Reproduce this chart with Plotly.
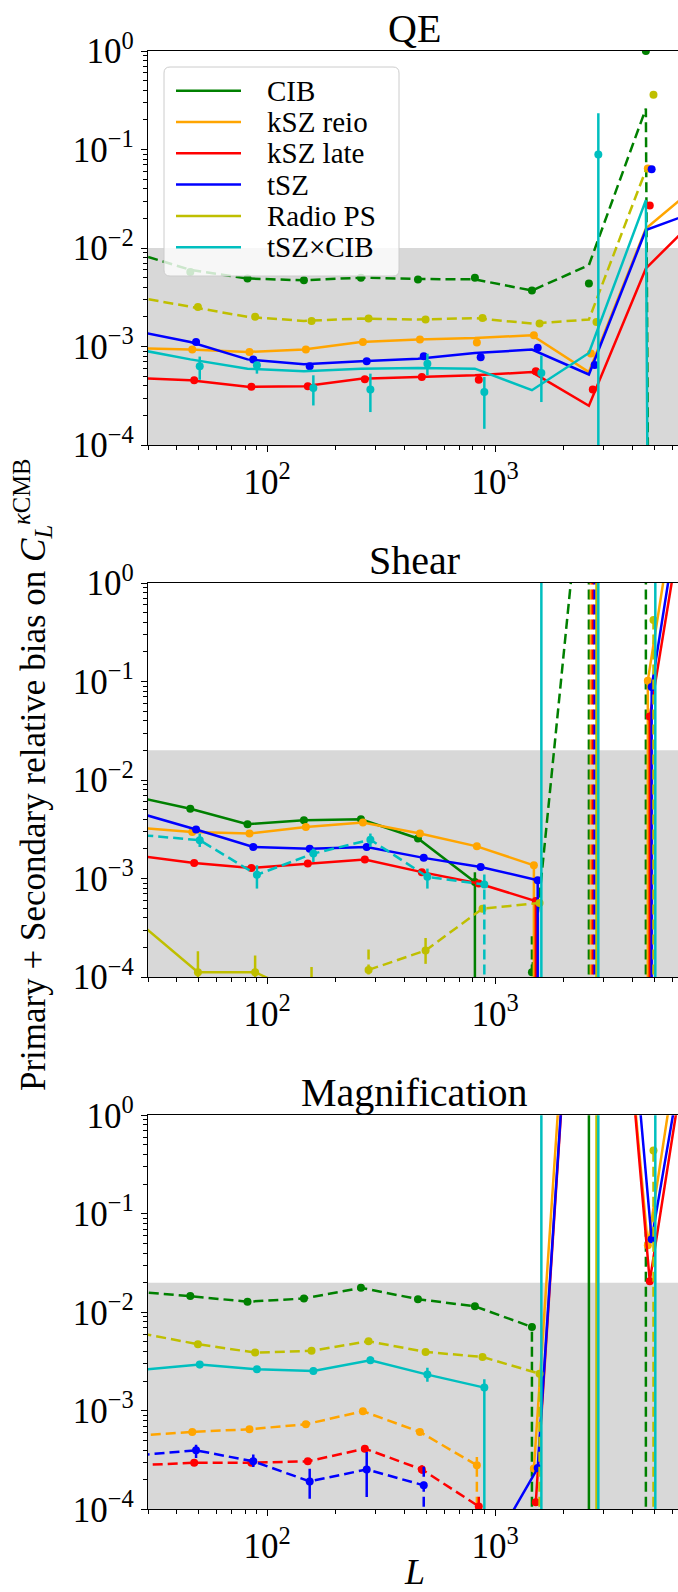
import math
import plotly.graph_objects as go

# ---------------- data ----------------
L_BINS = [26, 46, 82, 145, 258, 459, 816, 1452, 2582, 4592, 8166]
SPECIES = ["CIB", "kSZ reio", "kSZ late", "tSZ", "Radio PS", "tSZ×CIB"]
COLORS = ["#008000", "#FFA500", "#FF0000", "#0000FF", "#BFBF00", "#00BFBF"]
PANELS = ["QE", "Shear", "Magnification"]
THRESHOLDS = [0.01, 0.02, 0.02]
X_TICKS = [100, 1000]
X_TICK_TEXT = ["10<sup>2</sup>", "10<sup>3</sup>"]
Y_TICKS = [1e-4, 1e-3, 1e-2, 1e-1, 1]
Y_TICK_TEXT = ["10<sup>−4</sup>", "10<sup>−3</sup>", "10<sup>−2</sup>", "10<sup>−1</sup>", "10<sup>0</sup>"]
X_MIN, X_MAX = 30, 6353
OFFSET_STEP = 0.02          # x-offset factor between species
LINE_AT_OFFSET = [False, True, True]
N = None

# signed relative bias (negative values drawn dashed as |value|)
# --- QE: separate curve and points ---
QE_LINE_CIB = [-9.0e-3, -6.0e-3, -4.9e-3, -4.7e-3, -5.0e-3, -4.85e-3, -4.8e-3, -3.7e-3, -6.7e-3, -0.26, -1e-100]
QE_LINE_KSZ_REIO = [9.6e-4, 9.3e-4, 8.8e-4, 9.3e-4, 1.11e-3, 1.18e-3, 1.22e-3, 1.30e-3, 5.5e-4, 0.0158, 0.048]
QE_LINE_KSZ_LATE = [4.8e-4, 4.55e-4, 3.9e-4, 3.95e-4, 4.7e-4, 4.9e-4, 5.1e-4, 5.5e-4, 2.5e-4, 6.2e-3, 0.0234]
QE_LINE_TSZ = [1.45e-3, 1.11e-3, 7.4e-4, 6.6e-4, 7.1e-4, 7.5e-4, 8.6e-4, 9.3e-4, 5.2e-4, 0.0152, 0.0248]
QE_LINE_RADIO = [-3.2e-3, -2.52e-3, -2.0e-3, -1.82e-3, -1.92e-3, -1.88e-3, -1.94e-3, -1.71e-3, -1.88e-3, -0.062, N]
QE_LINE_TSZXCIB = [9.5e-4, 7.4e-4, 5.96e-4, 5.6e-4, 5.96e-4, 6.05e-4, 5.96e-4, 3.6e-4, 8.6e-4, 0.0306, 1e-100]

QE_CIB = [N, -5.7e-3, -4.9e-3, -4.7e-3, -5.0e-3, -4.8e-3, -5.0e-3, -3.7e-3, -4.35e-3, -1.0, N]
QE_KSZ_REIO = [N, 9.3e-4, 8.8e-4, 9.3e-4, 1.11e-3, 1.18e-3, 1.10e-3, 1.30e-3, 8.5e-4, 0.064, N]
QE_KSZ_LATE = [N, 4.55e-4, 3.9e-4, 3.95e-4, 4.65e-4, 4.9e-4, 4.6e-4, 5.6e-4, 3.65e-4, 0.027, N]
QE_TSZ = [N, 1.11e-3, 7.4e-4, 6.3e-4, 7.1e-4, 7.95e-4, 7.8e-4, 9.7e-4, 6.5e-4, 0.063, N]
QE_RADIO = [N, -2.52e-3, -2.0e-3, -1.82e-3, -1.92e-3, -1.88e-3, -1.95e-3, -1.71e-3, -1.77e-3, -0.36, N]
QE_TSZXCIB = [N, 6.3e-4, 6.45e-4, 3.79e-4, 3.67e-4, 6.7e-4, 3.45e-4, 5.38e-4, 0.089, N, N]

# --- Shear ---
SHEAR_CIB = [6.8e-3, 5.1e-3, 3.56e-3, 3.9e-3, 4.0e-3, 2.55e-3, 9.2e-4, -1.12e-4, -70, -100, N]
SHEAR_KSZ_REIO = [3.3e-3, 2.97e-3, 2.86e-3, 3.34e-3, 3.7e-3, 2.86e-3, 2.12e-3, 1.36e-3, -50, 0.102, 500]
SHEAR_KSZ_LATE = [1.7e-3, 1.44e-3, 1.28e-3, 1.42e-3, 1.56e-3, 1.16e-3, 8.9e-4, 5.9e-4, -50, 0.044, 150]
SHEAR_TSZ = [4.6e-3, 3.14e-3, 2.09e-3, 2.01e-3, 2.09e-3, 1.62e-3, 1.31e-3, 9.6e-4, -50, 0.088, 400]
SHEAR_RADIO = [3.4e-4, 1.12e-4, 1.12e-4, 6e-5, -1.18e-4, -1.86e-4, -4.94e-4, -5.64e-4, 50, -0.42, N]
SHEAR_TSZXCIB = [-2.75e-3, -2.45e-3, -1.09e-3, -1.79e-3, -2.48e-3, -1.04e-3, -8.7e-4, N, N, N, N]

# --- Magnification ---
MAG_CIB = [-0.0163, -0.0146, -0.0128, -0.0138, -0.0177, -0.0136, -0.0115, -7.1e-3, 50, -1e-6, N]
MAG_KSZ_REIO = [-5.6e-4, -6.1e-4, -6.5e-4, -7.3e-4, -9.9e-4, -6.1e-4, -2.8e-4, 2.59e-4, 1e5, 0.048, 300]
MAG_KSZ_LATE = [-2.8e-4, -2.97e-4, -2.97e-4, -3.07e-4, -4.13e-4, -2.54e-4, -1.07e-4, 1.18e-4, 1e5, 0.0207, 100]
MAG_TSZ = [-3.55e-4, -3.97e-4, -3.07e-4, -1.92e-4, -2.54e-4, -1.75e-4, 2.6e-5, 2.62e-4, 2e5, 0.055, 130]
MAG_RADIO = [-6.1e-3, -4.74e-3, -3.9e-3, -4.06e-3, -5.08e-3, -3.96e-3, -3.52e-3, -2.38e-3, 50, -0.44, N]
MAG_TSZXCIB = [2.62e-3, 2.95e-3, 2.64e-3, 2.54e-3, 3.26e-3, 2.33e-3, 1.72e-3, N, N, N, N]

# error bars: (bin index, lower, upper)
QE_TSZXCIB_ERR = [(1, 4.6e-4, 7.9e-4), (2, 5.3e-4, 6.97e-4), (3, 2.52e-4, 5.1e-4), (4, 2.16e-4, 5.3e-4),
                  (5, 5.1e-4, 8.45e-4), (6, 1.46e-4, 4.9e-4), (7, 2.73e-4, 8.1e-4), (8, 1e-9, 0.233)]
SHEAR_CIB_ERR = [(6, 1e-9, 1.16e-3), (7, 1e-9, 2.6e-4), (8, 1e-9, 1e9), (9, 1e-9, 1e9)]
SHEAR_KSZ_REIO_ERR = [(7, 1e-9, 1.36e-3), (8, 1e-9, 1e9), (9, 1e-9, 0.102)]
SHEAR_KSZ_LATE_ERR = [(7, 1e-9, 5.9e-4), (8, 1e-9, 1e9), (9, 1e-9, 0.044)]
SHEAR_TSZ_ERR = [(7, 1e-9, 9.6e-4), (8, 1e-9, 1e9), (9, 1e-9, 0.088)]
SHEAR_RADIO_ERR = [(1, 1e-9, 1.83e-4), (2, 1e-9, 1.65e-4), (3, 1e-9, 1.26e-4), (4, 1e-9, 2.0e-4),
                   (5, 1.36e-4, 2.49e-4), (8, 1e-9, 1e9), (9, 1e-9, 0.42)]
SHEAR_TSZXCIB_ERR = [(1, 2.09e-3, 2.86e-3), (2, 7.9e-4, 1.36e-3), (3, 1.47e-3, 2.01e-3), (4, 2.09e-3, 2.86e-3),
                     (5, 7.9e-4, 1.26e-3), (6, 1e-9, 1.11e-3), (7, 1e-9, 1e9), (8, 1e-9, 1e9), (9, 1e-9, 1e9)]
MAG_CIB_ERR = [(7, 1e-9, 7.1e-3), (8, 1e-9, 1e9), (9, 1e-9, 0.066)]
MAG_KSZ_REIO_ERR = [(5, 5.7e-4, 6.5e-4), (6, 1e-9, 3.4e-4)]
MAG_KSZ_LATE_ERR = [(5, 2.3e-4, 2.8e-4), (6, 1e-9, 1.35e-4)]
MAG_TSZ_ERR = [(1, 3.32e-4, 4.53e-4), (2, 2.69e-4, 3.59e-4), (3, 1.28e-4, 2.58e-4), (4, 1.33e-4, 3.82e-4),
               (5, 1e-9, 2.84e-4)]
MAG_RADIO_ERR = [(7, 1e-9, 2.38e-3), (8, 1e-9, 1e9), (9, 1e-9, 0.44)]
MAG_TSZXCIB_ERR = [(1, 2.7e-3, 3.2e-3), (3, 2.35e-3, 2.75e-3), (4, 3.0e-3, 3.55e-3), (5, 1.97e-3, 2.73e-3),
                   (6, 1e-9, 2.09e-3), (7, 1e-9, 1e9), (8, 1e-9, 1e9), (9, 1e-9, 1e9)]

POINTS = [
    [QE_CIB, QE_KSZ_REIO, QE_KSZ_LATE, QE_TSZ, QE_RADIO, QE_TSZXCIB],
    [SHEAR_CIB, SHEAR_KSZ_REIO, SHEAR_KSZ_LATE, SHEAR_TSZ, SHEAR_RADIO, SHEAR_TSZXCIB],
    [MAG_CIB, MAG_KSZ_REIO, MAG_KSZ_LATE, MAG_TSZ, MAG_RADIO, MAG_TSZXCIB],
]
CURVES = [
    [QE_LINE_CIB, QE_LINE_KSZ_REIO, QE_LINE_KSZ_LATE, QE_LINE_TSZ, QE_LINE_RADIO, QE_LINE_TSZXCIB],
    POINTS[1],
    POINTS[2],
]
ERRORS = [
    [[], [], [], [], [], QE_TSZXCIB_ERR],
    [SHEAR_CIB_ERR, SHEAR_KSZ_REIO_ERR, SHEAR_KSZ_LATE_ERR, SHEAR_TSZ_ERR, SHEAR_RADIO_ERR, SHEAR_TSZXCIB_ERR],
    [MAG_CIB_ERR, MAG_KSZ_REIO_ERR, MAG_KSZ_LATE_ERR, MAG_TSZ_ERR, MAG_RADIO_ERR, MAG_TSZXCIB_ERR],
]

# ---------------- layout geometry ----------------
W, H = 678, 1592
ML = 148
PW = W - ML
PANEL_PX = [(51, 445), (583, 977), (1115.3, 1509.3)]
FONT = "Liberation Serif, DejaVu Serif, serif"
LW = 2.5
MS = 8
DASH = "10px,5px"


def px_x(px):
    return (px - ML) / PW


def px_y(py):
    return 1 - py / H


fig = go.Figure()

for p in range(3):
    ax = "" if p == 0 else str(p + 1)
    xa, ya = "x" + ax, "y" + ax
    for s in range(6):
        col = COLORS[s]
        f = 1 + OFFSET_STEP * s
        xd = [L * f for L in L_BINS]
        xl = xd if LINE_AT_OFFSET[p] else L_BINS
        curve = CURVES[p][s]
        pos = [v if (v is not None and v > 0) else None for v in curve]
        neg = [-v if (v is not None and v < 0) else None for v in curve]
        fig.add_trace(go.Scatter(x=xl, y=pos, mode="lines", line=dict(color=col, width=LW),
                                 xaxis=xa, yaxis=ya, showlegend=False, hoverinfo="skip"))
        fig.add_trace(go.Scatter(x=xl, y=neg, mode="lines", line=dict(color=col, width=LW, dash=DASH),
                                 xaxis=xa, yaxis=ya, showlegend=False, hoverinfo="skip"))
        pts = POINTS[p][s]
        bx_s, by_s, bx_d, by_d = [], [], [], []
        for (i, lo, hi) in ERRORS[p][s]:
            v = pts[i]
            # long drops of negative (dashed) series keep the dashed style
            if v is not None and v < 0 and lo <= 1e-9:
                bx_d += [xd[i], xd[i], None]
                by_d += [lo, hi, None]
            else:
                bx_s += [xd[i], xd[i], None]
                by_s += [lo, hi, None]
        if bx_s:
            fig.add_trace(go.Scatter(x=bx_s, y=by_s, mode="lines", line=dict(color=col, width=LW),
                                     xaxis=xa, yaxis=ya, showlegend=False, hoverinfo="skip"))
        if bx_d:
            fig.add_trace(go.Scatter(x=bx_d, y=by_d, mode="lines", line=dict(color=col, width=LW, dash=DASH),
                                     xaxis=xa, yaxis=ya, showlegend=False, hoverinfo="skip"))
        mk = [abs(v) if v is not None else None for v in pts]
        fig.add_trace(go.Scatter(x=xd, y=mk, mode="markers", marker=dict(color=col, size=MS),
                                 xaxis=xa, yaxis=ya, showlegend=False, hoverinfo="skip"))

layout = dict(width=W, height=H, margin=dict(l=ML, r=0, t=0, b=0),
              paper_bgcolor="white", plot_bgcolor="white", showlegend=False,
              font=dict(family=FONT, size=32, color="black"))

minor_x = [k * 10 ** e for e in (1, 2, 3) for k in range(2, 10) if X_MIN <= k * 10 ** e <= X_MAX]
minor_y = [k * 10.0 ** e for e in (-4, -3, -2, -1) for k in range(2, 10)]
shapes = []
annotations = []
for p in range(3):
    ax = "" if p == 0 else str(p + 1)
    top, bot = PANEL_PX[p]
    layout["xaxis" + ax] = dict(
        type="log", range=[math.log10(X_MIN), math.log10(X_MAX)], domain=[0, 1], anchor="y" + ax,
        showline=True, linecolor="black", linewidth=1.3, mirror=True, showgrid=False, zeroline=False,
        ticks="outside", ticklen=6, tickwidth=1.2, tickcolor="black",
        tickmode="array", tickvals=X_TICKS, ticktext=X_TICK_TEXT,
        tickfont=dict(family=FONT, size=35, color="black"),
        minor=dict(tickmode="array", tickvals=minor_x, ticks="outside", ticklen=3.5, tickwidth=1,
                   tickcolor="black", showgrid=False),
        automargin=False)
    layout["yaxis" + ax] = dict(
        type="log", range=[-4, 0], domain=[px_y(bot), px_y(top)], anchor="x" + ax,
        showline=True, linecolor="black", linewidth=1.3, mirror=False, showgrid=False, zeroline=False,
        ticks="outside", ticklen=6, tickwidth=1.2, tickcolor="black",
        tickmode="array", tickvals=Y_TICKS, ticktext=Y_TICK_TEXT,
        tickfont=dict(family=FONT, size=35, color="black"),
        minor=dict(tickmode="array", tickvals=minor_y, ticks="outside", ticklen=3.5, tickwidth=1,
                   tickcolor="black", showgrid=False),
        automargin=False)
    shapes.append(dict(type="rect", xref="x" + ax + " domain", yref="y" + ax,
                       x0=0, x1=1, y0=1e-4, y1=THRESHOLDS[p],
                       fillcolor="#d8d8d8", line=dict(width=0), layer="below"))
    annotations.append(dict(text=PANELS[p], x=px_x(414), y=px_y(top - 23), xref="paper", yref="paper",
                            xanchor="center", yanchor="middle", showarrow=False,
                            font=dict(family=FONT, size=40, color="black")))

# y label and x label
annotations.append(dict(
    text="Primary + Secondary relative bias on <i>C</i><sub><i>L</i></sub><sup><i>κ</i>CMB</sup>",
    textangle=-90, x=px_x(32), y=px_y(775), xref="paper", yref="paper",
    xanchor="center", yanchor="middle", showarrow=False, font=dict(family=FONT, size=35, color="black")))
annotations.append(dict(text="<i>L</i>", x=px_x(414), y=px_y(1572), xref="paper", yref="paper",
                        xanchor="center", yanchor="middle", showarrow=False,
                        font=dict(family=FONT, size=36, color="black")))

# legend box (panel 1)
bx0, bx1, by0, by1 = px_x(164), px_x(399), px_y(67), px_y(276)
rx, ry = 6 / PW, 6 / H
path = (f"M {bx0+rx},{by0} L {bx1-rx},{by0} Q {bx1},{by0} {bx1},{by0-ry} "
        f"L {bx1},{by1+ry} Q {bx1},{by1} {bx1-rx},{by1} L {bx0+rx},{by1} Q {bx0},{by1} {bx0},{by1+ry} "
        f"L {bx0},{by0-ry} Q {bx0},{by0} {bx0+rx},{by0} Z")
shapes.append(dict(type="path", path=path, xref="paper", yref="paper",
                   fillcolor="rgba(255,255,255,0.8)", line=dict(color="#cccccc", width=1), layer="above"))
for k, (name, col) in enumerate(zip(SPECIES, COLORS)):
    yk = 90.7 + 31.3 * k
    shapes.append(dict(type="line", xref="paper", yref="paper", x0=px_x(176), x1=px_x(241),
                       y0=px_y(yk), y1=px_y(yk), line=dict(color=col, width=LW), layer="above"))
    annotations.append(dict(text=name, x=px_x(265), y=px_y(yk), xref="paper", yref="paper",
                            xanchor="left", yanchor="middle", showarrow=False,
                            font=dict(family=FONT, size=29, color="black")))

layout["shapes"] = shapes
layout["annotations"] = annotations
fig.update_layout(**layout)
fig.write_html("out.html", config={"displayModeBar": False},
               post_script="document.body.style.margin='0';document.body.style.overflow='hidden';")
